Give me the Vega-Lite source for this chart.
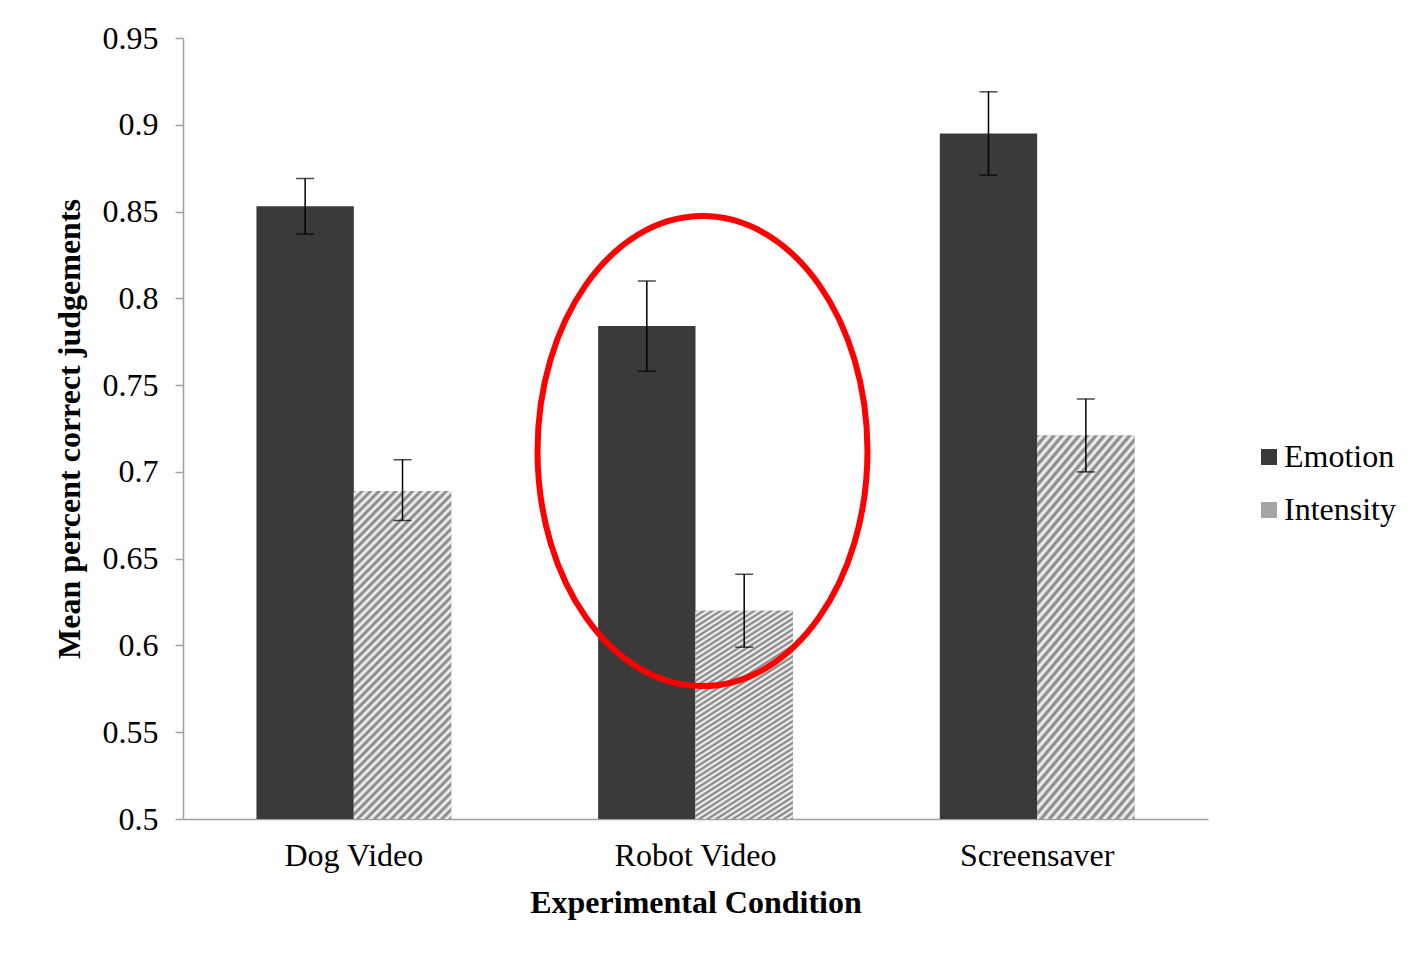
{
  "$schema": "https://vega.github.io/schema/vega-lite/v6.json",
  "width": 1025,
  "height": 781,
  "autosize": {"type": "none"},
  "padding": {"left": 183, "top": 38, "right": 207, "bottom": 138},
  "background": "white",
  "config": {
    "view": {"stroke": null},
    "font": "Liberation Serif",
    "axis": {"labelFont": "Liberation Serif", "titleFont": "Liberation Serif", "labelColor": "#000000", "titleColor": "#000000", "grid": false},
    "legend": {"labelFont": "Liberation Serif"}
  },
  "datasets": {
    "bars": [
      {"condition": "Dog Video", "measure": "Emotion", "mean": 0.853, "lo": 0.837, "hi": 0.869},
      {"condition": "Dog Video", "measure": "Intensity", "mean": 0.689, "lo": 0.672, "hi": 0.707},
      {"condition": "Robot Video", "measure": "Emotion", "mean": 0.784, "lo": 0.758, "hi": 0.81},
      {"condition": "Robot Video", "measure": "Intensity", "mean": 0.62, "lo": 0.599, "hi": 0.641},
      {"condition": "Screensaver", "measure": "Emotion", "mean": 0.895, "lo": 0.871, "hi": 0.919},
      {"condition": "Screensaver", "measure": "Intensity", "mean": 0.721, "lo": 0.7, "hi": 0.742}
    ],
    "note": [
      {"condition": "Robot Video", "y": 0.712}
    ]
  },
  "layer": [
    {
      "data": {"name": "bars"},
      "mark": {"type": "bar"},
      "encoding": {
        "x": {
          "field": "condition", "type": "nominal", "sort": null,
          "scale": {"paddingInner": 0.43, "paddingOuter": 0.215},
          "axis": {
            "title": "Experimental Condition", "titleFontSize": 32, "titleFontWeight": "bold", "titlePadding": 16,
            "labelFontSize": 32, "labelAngle": 0, "labelPadding": 21, "ticks": false,
            "domainColor": "#a0a0a0", "domainWidth": 1.5
          }
        },
        "xOffset": {"field": "measure", "type": "nominal", "scale": {"paddingInner": 0, "paddingOuter": 0}},
        "y": {
          "field": "mean", "type": "quantitative",
          "scale": {"domain": [0.5, 0.95], "zero": false, "nice": false},
          "axis": {
            "title": "Mean percent correct judgements", "titleFontSize": 32, "titleFontWeight": "bold", "titlePadding": 16,
            "values": [0.5, 0.55, 0.6, 0.65, 0.7, 0.75, 0.8, 0.85, 0.9, 0.95], "format": "~g",
            "labelFontSize": 32, "labelPadding": 17, "tickSize": 8, "tickColor": "#a0a0a0", "tickWidth": 1.5,
            "domainColor": "#a0a0a0", "domainWidth": 1.5
          }
        },
        "y2": {"datum": 0.5},
        "color": {
          "field": "measure", "type": "nominal",
          "scale": {"domain": ["Emotion", "Intensity"], "range": ["#3a3a3a", "#a5a5a5"]},
          "legend": {
            "title": null, "orient": "none", "legendX": 1070, "legendY": 403,
            "symbolType": "square", "symbolSize": 256, "symbolStrokeWidth": 0,
            "labelFontSize": 32, "labelColor": "#000000", "labelOffset": -1, "rowPadding": 21,
            "encode": {
              "symbols": {
                "enter": {
                  "fill": [
                    {
                      "test": "datum.value === 'Intensity'",
                      "value": {
                        "gradient": "linear", "x1": 0, "y1": 0, "x2": 1, "y2": 1,
                        "stops": [
                          {"offset": 0, "color": "#ffffff"}, {"offset": 0.1, "color": "#8a8a8a"},
                          {"offset": 0.2, "color": "#ffffff"}, {"offset": 0.3, "color": "#8a8a8a"},
                          {"offset": 0.4, "color": "#ffffff"}, {"offset": 0.5, "color": "#8a8a8a"},
                          {"offset": 0.6, "color": "#ffffff"}, {"offset": 0.7, "color": "#8a8a8a"},
                          {"offset": 0.8, "color": "#ffffff"}, {"offset": 0.9, "color": "#8a8a8a"},
                          {"offset": 1, "color": "#ffffff"}
                        ]
                      }
                    },
                    {"value": "#3a3a3a"}
                  ]
                },
                "update": {
                  "fill": [
                    {
                      "test": "datum.value === 'Intensity'",
                      "value": {
                        "gradient": "linear", "x1": 0, "y1": 0, "x2": 1, "y2": 1,
                        "stops": [
                          {"offset": 0, "color": "#ffffff"}, {"offset": 0.1, "color": "#8a8a8a"},
                          {"offset": 0.2, "color": "#ffffff"}, {"offset": 0.3, "color": "#8a8a8a"},
                          {"offset": 0.4, "color": "#ffffff"}, {"offset": 0.5, "color": "#8a8a8a"},
                          {"offset": 0.6, "color": "#ffffff"}, {"offset": 0.7, "color": "#8a8a8a"},
                          {"offset": 0.8, "color": "#ffffff"}, {"offset": 0.9, "color": "#8a8a8a"},
                          {"offset": 1, "color": "#ffffff"}
                        ]
                      }
                    },
                    {"value": "#3a3a3a"}
                  ]
                }
              }
            }
          }
        }
      }
    },
    {
      "data": {"name": "bars"},
      "transform": [{"filter": "datum.measure === 'Intensity'"}],
      "mark": {
        "type": "bar",
        "fill": {
          "gradient": "linear", "x1": 0, "y1": 0, "x2": 0.357, "y2": 1.19,
          "stops": [
            {"offset": 0, "color": "#7a7a7a"}, {"offset": 0.01, "color": "#ffffff"},
            {"offset": 0.02, "color": "#7a7a7a"}, {"offset": 0.03, "color": "#ffffff"},
            {"offset": 0.04, "color": "#7a7a7a"}, {"offset": 0.05, "color": "#ffffff"},
            {"offset": 0.06, "color": "#7a7a7a"}, {"offset": 0.07, "color": "#ffffff"},
            {"offset": 0.08, "color": "#7a7a7a"}, {"offset": 0.09, "color": "#ffffff"},
            {"offset": 0.10, "color": "#7a7a7a"}, {"offset": 0.11, "color": "#ffffff"},
            {"offset": 0.12, "color": "#7a7a7a"}, {"offset": 0.13, "color": "#ffffff"},
            {"offset": 0.14, "color": "#7a7a7a"}, {"offset": 0.15, "color": "#ffffff"},
            {"offset": 0.16, "color": "#7a7a7a"}, {"offset": 0.17, "color": "#ffffff"},
            {"offset": 0.18, "color": "#7a7a7a"}, {"offset": 0.19, "color": "#ffffff"},
            {"offset": 0.20, "color": "#7a7a7a"}, {"offset": 0.21, "color": "#ffffff"},
            {"offset": 0.22, "color": "#7a7a7a"}, {"offset": 0.23, "color": "#ffffff"},
            {"offset": 0.24, "color": "#7a7a7a"}, {"offset": 0.25, "color": "#ffffff"},
            {"offset": 0.26, "color": "#7a7a7a"}, {"offset": 0.27, "color": "#ffffff"},
            {"offset": 0.28, "color": "#7a7a7a"}, {"offset": 0.29, "color": "#ffffff"},
            {"offset": 0.30, "color": "#7a7a7a"}, {"offset": 0.31, "color": "#ffffff"},
            {"offset": 0.32, "color": "#7a7a7a"}, {"offset": 0.33, "color": "#ffffff"},
            {"offset": 0.34, "color": "#7a7a7a"}, {"offset": 0.35, "color": "#ffffff"},
            {"offset": 0.36, "color": "#7a7a7a"}, {"offset": 0.37, "color": "#ffffff"},
            {"offset": 0.38, "color": "#7a7a7a"}, {"offset": 0.39, "color": "#ffffff"},
            {"offset": 0.40, "color": "#7a7a7a"}, {"offset": 0.41, "color": "#ffffff"},
            {"offset": 0.42, "color": "#7a7a7a"}, {"offset": 0.43, "color": "#ffffff"},
            {"offset": 0.44, "color": "#7a7a7a"}, {"offset": 0.45, "color": "#ffffff"},
            {"offset": 0.46, "color": "#7a7a7a"}, {"offset": 0.47, "color": "#ffffff"},
            {"offset": 0.48, "color": "#7a7a7a"}, {"offset": 0.49, "color": "#ffffff"},
            {"offset": 0.50, "color": "#7a7a7a"}, {"offset": 0.51, "color": "#ffffff"},
            {"offset": 0.52, "color": "#7a7a7a"}, {"offset": 0.53, "color": "#ffffff"},
            {"offset": 0.54, "color": "#7a7a7a"}, {"offset": 0.55, "color": "#ffffff"},
            {"offset": 0.56, "color": "#7a7a7a"}, {"offset": 0.57, "color": "#ffffff"},
            {"offset": 0.58, "color": "#7a7a7a"}, {"offset": 0.59, "color": "#ffffff"},
            {"offset": 0.60, "color": "#7a7a7a"}, {"offset": 0.61, "color": "#ffffff"},
            {"offset": 0.62, "color": "#7a7a7a"}, {"offset": 0.63, "color": "#ffffff"},
            {"offset": 0.64, "color": "#7a7a7a"}, {"offset": 0.65, "color": "#ffffff"},
            {"offset": 0.66, "color": "#7a7a7a"}, {"offset": 0.67, "color": "#ffffff"},
            {"offset": 0.68, "color": "#7a7a7a"}, {"offset": 0.69, "color": "#ffffff"},
            {"offset": 0.70, "color": "#7a7a7a"}, {"offset": 0.71, "color": "#ffffff"},
            {"offset": 0.72, "color": "#7a7a7a"}, {"offset": 0.73, "color": "#ffffff"},
            {"offset": 0.74, "color": "#7a7a7a"}, {"offset": 0.75, "color": "#ffffff"},
            {"offset": 0.76, "color": "#7a7a7a"}, {"offset": 0.77, "color": "#ffffff"},
            {"offset": 0.78, "color": "#7a7a7a"}, {"offset": 0.79, "color": "#ffffff"},
            {"offset": 0.80, "color": "#7a7a7a"}, {"offset": 0.81, "color": "#ffffff"},
            {"offset": 0.82, "color": "#7a7a7a"}, {"offset": 0.83, "color": "#ffffff"},
            {"offset": 0.84, "color": "#7a7a7a"}, {"offset": 0.85, "color": "#ffffff"},
            {"offset": 0.86, "color": "#7a7a7a"}, {"offset": 0.87, "color": "#ffffff"},
            {"offset": 0.88, "color": "#7a7a7a"}, {"offset": 0.89, "color": "#ffffff"},
            {"offset": 0.90, "color": "#7a7a7a"}, {"offset": 0.91, "color": "#ffffff"},
            {"offset": 0.92, "color": "#7a7a7a"}, {"offset": 0.93, "color": "#ffffff"},
            {"offset": 0.94, "color": "#7a7a7a"}, {"offset": 0.95, "color": "#ffffff"},
            {"offset": 0.96, "color": "#7a7a7a"}, {"offset": 0.97, "color": "#ffffff"},
            {"offset": 0.98, "color": "#7a7a7a"}, {"offset": 0.99, "color": "#ffffff"},
            {"offset": 1, "color": "#7a7a7a"}
          ]
        }
      },
      "encoding": {
        "x": {"field": "condition", "type": "nominal", "sort": null},
        "xOffset": {"field": "measure", "type": "nominal"},
        "y": {"field": "mean", "type": "quantitative"},
        "y2": {"datum": 0.5}
      }
    },
    {
      "data": {"name": "bars"},
      "mark": {"type": "rule", "color": "#000000", "strokeWidth": 1.5},
      "encoding": {
        "x": {"field": "condition", "type": "nominal", "sort": null},
        "xOffset": {"field": "measure", "type": "nominal"},
        "y": {"field": "lo", "type": "quantitative"},
        "y2": {"field": "hi"}
      }
    },
    {
      "data": {"name": "bars"},
      "mark": {"type": "tick", "color": "#000000", "size": 18, "thickness": 1.5, "orient": "horizontal"},
      "encoding": {
        "x": {"field": "condition", "type": "nominal", "sort": null},
        "xOffset": {"field": "measure", "type": "nominal"},
        "y": {"field": "lo", "type": "quantitative"}
      }
    },
    {
      "data": {"name": "bars"},
      "mark": {"type": "tick", "color": "#000000", "size": 18, "thickness": 1.5, "orient": "horizontal"},
      "encoding": {
        "x": {"field": "condition", "type": "nominal", "sort": null},
        "xOffset": {"field": "measure", "type": "nominal"},
        "y": {"field": "hi", "type": "quantitative"}
      }
    },
    {
      "data": {"name": "note"},
      "mark": {
        "type": "point", "filled": false, "stroke": "#ff0000", "strokeWidth": 6, "opacity": 1,
        "shape": "M -0.702 0 A 0.702 1 0 1 1 0.702 0 A 0.702 1 0 1 1 -0.702 0 Z",
        "size": 220900, "xOffset": 7
      },
      "encoding": {
        "x": {"field": "condition", "type": "nominal", "sort": null},
        "y": {"field": "y", "type": "quantitative"}
      }
    }
  ]
}
